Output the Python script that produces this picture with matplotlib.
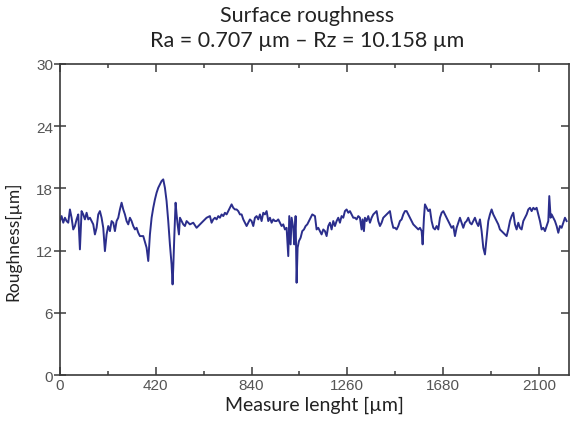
"""Surface roughness profile chart."""

import matplotlib

matplotlib.use("Agg")
import matplotlib.pyplot as plt
from matplotlib.ticker import MultipleLocator

# profile (position in µm, height in µm)
position = [
    0, 7.4, 14.7, 22, 29.3, 36.6, 43.9, 51.2, 58.5, 65.8, 73.1, 80.4, 87.7, 95,
    102.3, 109.6, 117, 124.3, 131.6, 138.9, 146.2, 153.5, 160.8, 168.1, 175.4,
    182.7, 190, 197.3, 204.6, 211.9, 219.3, 226.6, 233.9, 241.2, 248.5, 255.8,
    263.1, 270.4, 277.7, 285, 292.3, 299.6, 306.9, 314.2, 321.6, 328.9, 336.2,
    343.5, 350.8, 365.4, 380, 387.3, 394.6, 402, 409.2, 416.6, 423.8, 431.1,
    438.4, 445.7, 453, 460.3, 467.6, 474.9, 482.2, 489.5, 493.9, 496.9, 501.3,
    507.1, 511.5, 515.9, 521.8, 526.2, 533.5, 540.8, 548, 555.4, 562.6, 570,
    584.5, 599.2, 613.8, 628.4, 643, 657.6, 664.9, 672.2, 679.5, 686.9, 694.2,
    701.5, 708.8, 716.1, 723.4, 730.7, 738, 745.3, 752.6, 759.9, 767.2, 774.5,
    781.8, 789.2, 796.5, 803.8, 811.1, 818.4, 825.7, 833, 840.3, 847.6, 854.9,
    862.2, 869.5, 876.8, 884.1, 891.5, 898.8, 906.1, 913.4, 920.7, 928, 935.3,
    942.6, 949.9, 957.2, 964.5, 971.8, 979.1, 986.4, 993.7, 1001, 1005.4,
    1011.3, 1015.7, 1023, 1027.4, 1033.2, 1037.6, 1042, 1047.8, 1055.1, 1062.4,
    1069.8, 1077.1, 1084.4, 1091.7, 1099, 1106.3, 1118, 1125.2, 1132.5, 1139.8,
    1147.1, 1154.5, 1161.8, 1169.1, 1176.4, 1183.7, 1191, 1198.3, 1205.6,
    1212.9, 1220.2, 1227.5, 1234.8, 1242.1, 1249.4, 1256.8, 1264.1, 1271.4,
    1278.7, 1286, 1293.3, 1300.6, 1307.9, 1315.2, 1322.5, 1326.9, 1332.7,
    1337.1, 1344.4, 1351.7, 1359.1, 1366.4, 1373.7, 1381, 1388.3, 1395.6,
    1402.9, 1410.2, 1417.5, 1424.8, 1432.1, 1439.4, 1446.7, 1454.1, 1461.4,
    1468.7, 1476, 1483.3, 1490.6, 1497.9, 1505.2, 1512.5, 1519.8, 1527.1,
    1534.4, 1541.7, 1549, 1556.3, 1563.6, 1571, 1578.3, 1585.6, 1590, 1595.8,
    1600.2, 1607.5, 1614.8, 1622.1, 1629.4, 1636.7, 1644, 1651.3, 1658.6, 1666,
    1673.3, 1680.6, 1687.8, 1695.1, 1702.4, 1709.7, 1717, 1724.5, 1731.7, 1739,
    1746.3, 1753.6, 1760.9, 1768.2, 1775.5, 1782.8, 1790.1, 1797.4, 1804.7,
    1812, 1819.3, 1826.7, 1834, 1841.3, 1848.6, 1855.9, 1863.2, 1870.5, 1877.8,
    1885.1, 1892.4, 1899.7, 1907, 1914.3, 1921.6, 1928.9, 1936.3, 1943.6,
    1950.9, 1958.2, 1965.5, 1972.8, 1980.1, 1987.4, 1994.7, 2002, 2009.3,
    2016.6, 2023.9, 2031.3, 2038.6, 2045.9, 2053.2, 2060.5, 2067.8, 2075.1,
    2082.4, 2089.7, 2097, 2104.3, 2111.6, 2118.9, 2126.2, 2133.6, 2140.9,
    2145.2, 2151.1, 2155.5, 2162.8, 2170.1, 2177.4, 2184.7, 2192, 2199.3,
    2206.6, 2213.9, 2221.2,
]
roughness = [
    14.85, 15.33, 14.69, 15.17, 14.85, 14.69, 15.97, 15.17, 14.04, 14.37, 15.01,
    15.49, 12.12, 15.81, 15.49, 15.01, 15.65, 15.01, 15.17, 14.85, 14.53, 13.56,
    14.2, 15.49, 15.81, 15.17, 14.2, 11.95, 13.56, 14.37, 13.88, 14.85, 14.69,
    13.88, 14.85, 15.17, 15.97, 16.62, 15.97, 15.49, 14.85, 14.53, 15.17, 14.85,
    14.37, 14.04, 14.2, 13.72, 13.4, 13.4, 12.28, 11.0, 13.56, 15.17, 16.13,
    16.94, 17.58, 18.06, 18.39, 18.71, 18.87, 18.06, 16.78, 14.85, 12.6, 10.67,
    8.74, 10.35, 13.24, 16.62, 15.49, 14.53, 13.56, 15.17, 14.85, 14.53, 14.37,
    14.85, 14.69, 14.53, 14.69, 14.2, 14.53, 14.85, 15.17, 15.33, 14.69, 15.01,
    15.17, 15.01, 15.33, 15.17, 15.49, 15.33, 15.65, 15.49, 15.81, 16.13, 16.46,
    16.13, 15.97, 15.97, 15.81, 15.49, 15.49, 15.01, 14.69, 14.37, 14.69, 15.01,
    14.85, 14.37, 15.17, 15.33, 15.01, 15.49, 14.85, 15.65, 15.49, 15.81, 14.85,
    15.17, 14.69, 15.01, 14.85, 14.85, 15.01, 14.69, 14.37, 14.53, 14.04, 14.2,
    11.47, 15.33, 12.6, 15.17, 14.2, 12.6, 15.33, 8.9, 12.28, 12.92, 13.24,
    13.88, 14.04, 14.37, 14.53, 14.85, 15.17, 15.49, 15.33, 14.04, 14.2, 13.88,
    13.56, 14.04, 13.88, 13.4, 14.37, 14.69, 14.04, 14.85, 14.37, 14.85, 15.17,
    14.69, 15.33, 15.17, 15.81, 15.97, 15.65, 15.81, 15.49, 15.17, 15.17, 15.01,
    15.33, 15.17, 14.04, 15.01, 13.88, 15.17, 14.85, 15.33, 14.69, 15.17, 15.49,
    15.65, 15.81, 14.85, 14.37, 14.69, 15.17, 15.33, 15.49, 15.65, 15.81, 14.85,
    14.2, 14.2, 14.04, 14.37, 14.85, 15.01, 15.49, 15.81, 15.81, 15.49, 15.17,
    14.85, 14.53, 14.37, 14.2, 14.04, 14.2, 13.88, 12.6, 15.17, 16.46, 16.13,
    15.81, 15.97, 14.85, 14.2, 14.04, 14.37, 14.04, 15.17, 15.65, 15.81, 15.49,
    15.17, 14.85, 14.53, 14.2, 14.37, 13.4, 14.2, 14.69, 15.17, 14.69, 14.2,
    14.69, 14.85, 15.17, 14.69, 14.53, 14.85, 15.17, 14.69, 14.37, 15.01, 13.88,
    12.28, 11.63, 13.24, 14.85, 15.49, 15.97, 15.49, 15.17, 14.85, 14.53, 14.04,
    13.88, 13.72, 13.56, 13.4, 14.04, 14.85, 15.33, 15.65, 14.53, 14.04, 14.69,
    14.2, 14.04, 14.85, 15.17, 15.49, 15.97, 16.13, 15.81, 16.13, 15.97, 16.13,
    15.49, 14.85, 14.04, 14.2, 13.88, 14.37, 14.85, 17.26, 15.17, 15.49, 15.17,
    14.85, 14.37, 13.72, 14.37, 14.2, 14.69, 15.17, 14.85,
]

x_ticks = [0, 420, 840, 1260, 1680, 2100]
y_ticks = [0, 6, 12, 18, 24, 30]

title = "Surface roughness\nRa = 0.707 µm – Rz = 10.158 µm"
text_font = "Lato"
tick_font = "Liberation Sans"

fig = plt.figure(figsize=(5.76, 4.27), dpi=100)
ax = fig.add_axes([0.104, 0.1194, 0.884, 0.7284])

ax.plot(position, roughness, color="#2B2E8C", linewidth=1.4)

ax.set_xlim(0, 2232)
ax.set_ylim(0, 30)
ax.set_xticks(x_ticks)
ax.set_yticks(y_ticks)
ax.xaxis.set_minor_locator(MultipleLocator(210))

for spine in ax.spines.values():
    spine.set_color("#3a3a3a")
    spine.set_linewidth(1.2)

ax.tick_params(axis="x", which="both", direction="in", top=True,
               colors="#3a3a3a", labelcolor="#555555", pad=2)
ax.tick_params(axis="x", which="major", length=6, width=1.1)
ax.tick_params(axis="x", which="minor", length=3, width=1.1)
ax.tick_params(axis="y", which="major", direction="inout", right=False,
               length=8, width=1.1, colors="#3a3a3a", labelcolor="#555555",
               pad=1)
for lab in ax.get_xticklabels() + ax.get_yticklabels():
    lab.set_fontfamily(tick_font)
    lab.set_fontsize(11)

# right-hand ticks point inward only
ax_r = ax.secondary_yaxis("right")
ax_r.set_yticks(y_ticks[1:-1])
ax_r.tick_params(direction="in", length=6, width=1.1, colors="#3a3a3a",
                 labelright=False)
ax_r.spines["right"].set_visible(False)

ax.set_title(title, fontsize=15.5, family=text_font, color="#222222",
             linespacing=1.3, pad=13, x=0.485)
ax.set_xlabel("Measure lenght [µm]", fontsize=14, family=text_font,
              color="#222222", labelpad=3)
ax.set_ylabel("Roughness[µm]", fontsize=12.5, family=text_font,
              color="#222222")
ax.yaxis.set_label_coords(-0.075, 0.434)

fig.savefig("out.png", dpi=100)
plt.close(fig)
